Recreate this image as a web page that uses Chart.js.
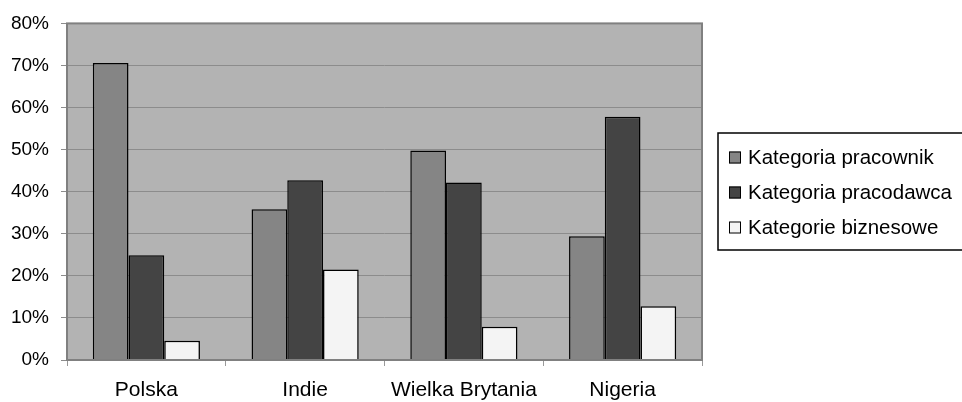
<!DOCTYPE html>
<html>
<head>
<meta charset="utf-8">
<script src="https://cdn.jsdelivr.net/npm/chart.js@4"></script>
<style>
  html, body { margin: 0; padding: 0; background: #fff; }
  #wrap { width: 962px; height: 402px; }
</style>
</head>
<body>
<div id="wrap"><canvas id="chart" width="962" height="402"></canvas></div>
<script>
/* ─── Data ─────────────────────────────────────────────────────────────── */
const countries     = ['Polska', 'Indie', 'Wielka Brytania', 'Nigeria'];
const seriesNames   = ['Kategoria pracownik', 'Kategoria pracodawca', 'Kategorie biznesowe'];
const pracownik     = [70.6, 35.8, 49.8, 29.4];
const pracodawca    = [24.9, 42.7, 42.2, 57.8];
const biznesowe     = [4.6, 21.5, 7.9, 12.8];
const yTicks        = [0, 10, 20, 30, 40, 50, 60, 70, 80];

const FONT = "'Liberation Sans', Arial, sans-serif";
const fills = ['#858585', '#444444', '#f4f4f4'];

/* ─── Plot background + frame ──────────────────────────────────────────── */
const plotBg = {
  id: 'plotBg',
  beforeDraw(chart) {
    const { ctx, chartArea: a } = chart;
    ctx.save();
    ctx.fillStyle = '#b3b3b3';
    ctx.fillRect(a.left, a.top, a.right - a.left, a.bottom - a.top);
    ctx.restore();
  },
  afterDatasetsDraw(chart) {
    const { ctx, chartArea: a } = chart;
    ctx.save();
    ctx.strokeStyle = '#808080';
    ctx.lineWidth = 2;
    ctx.strokeRect(a.left, a.top, a.right - a.left, a.bottom - a.top);
    ctx.restore();
  }
};

/* ─── Boxed legend on the right ────────────────────────────────────────── */
const boxLegend = {
  id: 'boxLegend',
  afterDraw(chart) {
    const { ctx } = chart;
    const x0 = 718, y0 = 133, y1 = 250;
    ctx.save();
    ctx.strokeStyle = '#000';
    ctx.lineWidth = 1.5;
    ctx.strokeRect(x0, y0, 300, y1 - y0);
    ctx.font = '20.5px ' + FONT;
    ctx.textBaseline = 'middle';
    chart.data.datasets.forEach((ds, i) => {
      const cy = 157.5 + i * 35;
      ctx.fillStyle = ds.backgroundColor;
      ctx.fillRect(729, cy - 6, 12, 12);
      ctx.lineWidth = 1;
      ctx.strokeStyle = '#000';
      ctx.strokeRect(729.5, cy - 5.5, 11, 11);
      ctx.fillStyle = '#000';
      ctx.fillText(ds.label, 748, cy + 1);
    });
    ctx.restore();
  }
};

const datasets = [pracownik, pracodawca, biznesowe].map((vals, i) => ({
  label: seriesNames[i],
  data: vals,
  backgroundColor: fills[i],
  borderColor: '#000',
  borderWidth: 1.5,
  borderSkipped: 'bottom',
  barPercentage: 1,
  categoryPercentage: 0.675,
}));

new Chart(document.getElementById('chart'), {
  type: 'bar',
  data: { labels: countries, datasets },
  options: {
    responsive: false,
    animation: false,
    devicePixelRatio: 1,
    layout: { padding: { top: 21, right: 260, bottom: 0, left: 0 } },
    plugins: { legend: { display: false }, tooltip: { enabled: false } },
    scales: {
      x: {
        offset: true,
        afterFit(scale) { scale.height = 42; },
        grid: { offset: true, drawOnChartArea: false, color: '#999', tickLength: 6 },
        border: { display: false },
        ticks: { color: '#000', font: { family: FONT, size: 21 }, padding: 12, maxRotation: 0 },
      },
      y: {
        min: 0,
        max: 80,
        afterFit(scale) { scale.width = 67; },
        afterBuildTicks(scale) { scale.ticks = yTicks.map(v => ({ value: v })); },
        grid: { color: '#8c8c8c', tickLength: 6, lineWidth: 1 },
        border: { display: false },
        ticks: {
          color: '#000',
          font: { family: FONT, size: 19 },
          padding: 12,
          callback: v => v + '%',
        },
      },
    },
  },
  plugins: [plotBg, boxLegend],
});
</script>
</body>
</html>
